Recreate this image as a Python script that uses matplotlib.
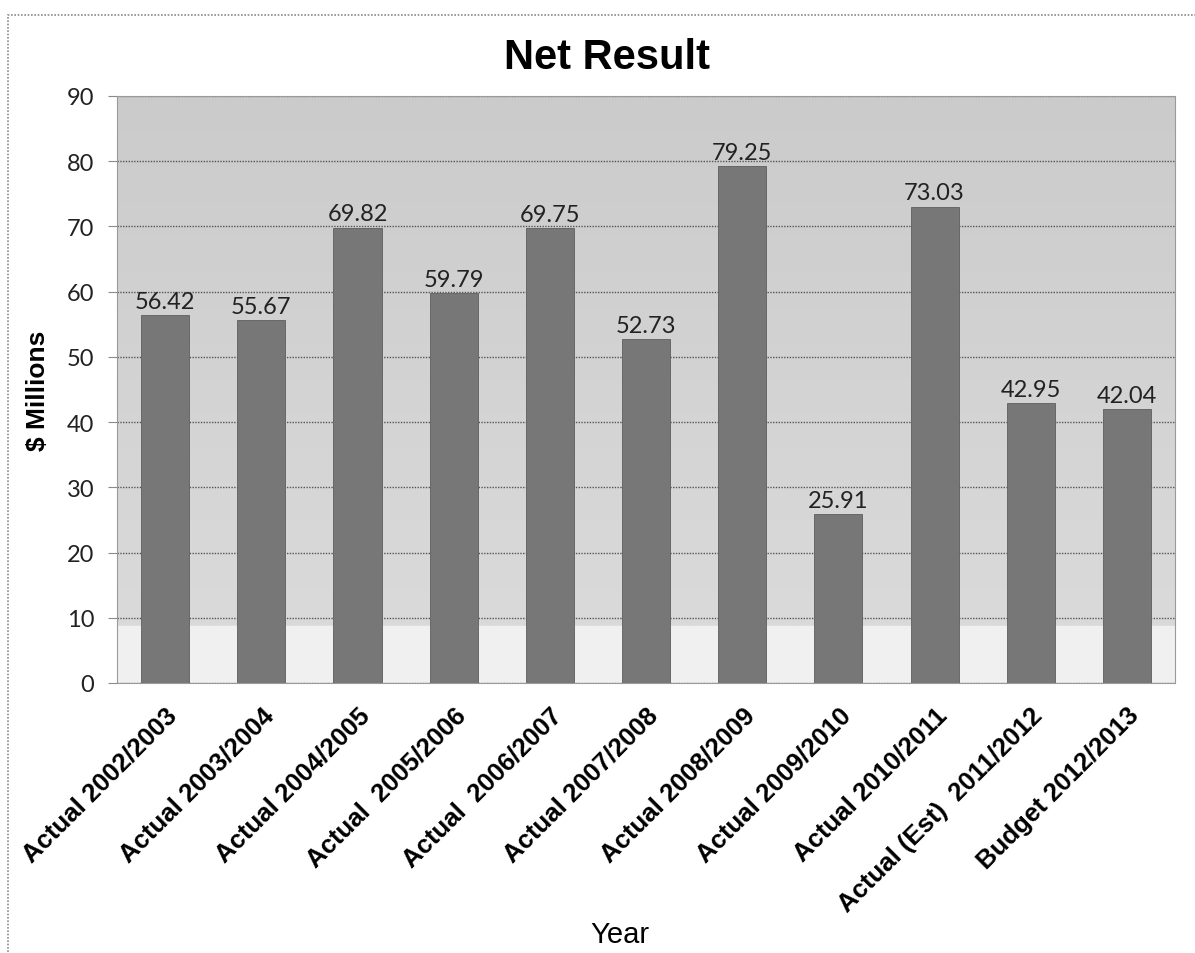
import numpy as np
import matplotlib
matplotlib.use("Agg")
import matplotlib.pyplot as plt
from matplotlib.colors import LinearSegmentedColormap
from matplotlib.patches import Rectangle

# Net result by year, $ millions
years = ["Actual 2002/2003", "Actual 2003/2004", "Actual 2004/2005",
         "Actual  2005/2006", "Actual  2006/2007", "Actual 2007/2008",
         "Actual 2008/2009", "Actual 2009/2010", "Actual 2010/2011",
         "Actual (Est)  2011/2012", "Budget 2012/2013"]
net_result = [56.42, 55.67, 69.82, 59.79, 69.75, 52.73,
              79.25, 25.91, 73.03, 42.95, 42.04]
y_ticks = [0, 10, 20, 30, 40, 50, 60, 70, 80, 90]

fig = plt.figure(figsize=(11.95, 9.54), dpi=100)
ax = fig.add_axes([117 / 1195, 1 - 684 / 954, (1175 - 117) / 1195, (684 - 97) / 954])

x = np.arange(len(years))
ax.set_xlim(-0.5, len(years) - 0.5)
ax.set_ylim(0, 90)

# grey fill behind the bars, a little lighter towards the bottom
bg = LinearSegmentedColormap.from_list("bg", ["#dadada", "#cbcbcb"])
grad = np.linspace(0, 1, 256).reshape(-1, 1)
ax.imshow(grad, cmap=bg, aspect="auto",
          extent=(-0.5, len(years) - 0.5, 8.7, 90), origin="lower", zorder=0)
ax.axhspan(0, 8.7, color="#f0f0f0", zorder=0.5)

ax.set_yticks(y_ticks)
ax.yaxis.grid(True, linestyle=(0, (1, 1)), color="#555555", linewidth=1.0, zorder=1)
ax.set_axisbelow(True)

ax.bar(x, net_result, width=0.5, color="#777777", edgecolor="#5e5e5e",
       linewidth=0.6, zorder=2)
for xi, v in zip(x, net_result):
    ax.text(xi, v + 0.5, f"{v:.2f}", ha="center", va="bottom",
            fontsize=17, family="Lato", color="#222222", zorder=3)

for side in ["top", "right", "left", "bottom"]:
    ax.spines[side].set_color("#9a9a9a")
    ax.spines[side].set_linestyle((0, (1, 1)))

ax.set_xticks(x)
ax.set_xticklabels(years, rotation=45, ha="right", rotation_mode="anchor",
                   fontsize=18.5, fontweight="bold", family="Liberation Sans")
ax.tick_params(axis="x", length=0, pad=14)
ax.tick_params(axis="y", length=6.5, width=0.8, color="#8a8a8a", pad=10,
               labelsize=17)
for lbl in ax.get_yticklabels():
    lbl.set_family("Lato")
    lbl.set_color("#222222")

ax.set_ylabel("$ Millions", fontsize=19, fontweight="bold", family="Liberation Sans",
              labelpad=12)
fig.text(620 / 1195, 1 - 935 / 954, "Year", ha="center", va="center",
         fontsize=21, family="Liberation Sans")
fig.text(607 / 1195, 1 - 58 / 954, "Net Result", ha="center", va="center",
         fontsize=30, fontweight="bold", family="Liberation Sans")

# chart frame
fig.patches.append(Rectangle((8 / 1195, -0.05), 1.2, 1 - 16 / 954 + 0.05,
                             transform=fig.transFigure, fill=False,
                             edgecolor="#8a8a8a", linewidth=1.2,
                             linestyle=(0, (1, 1))))

fig.savefig("out.png", dpi=100)
